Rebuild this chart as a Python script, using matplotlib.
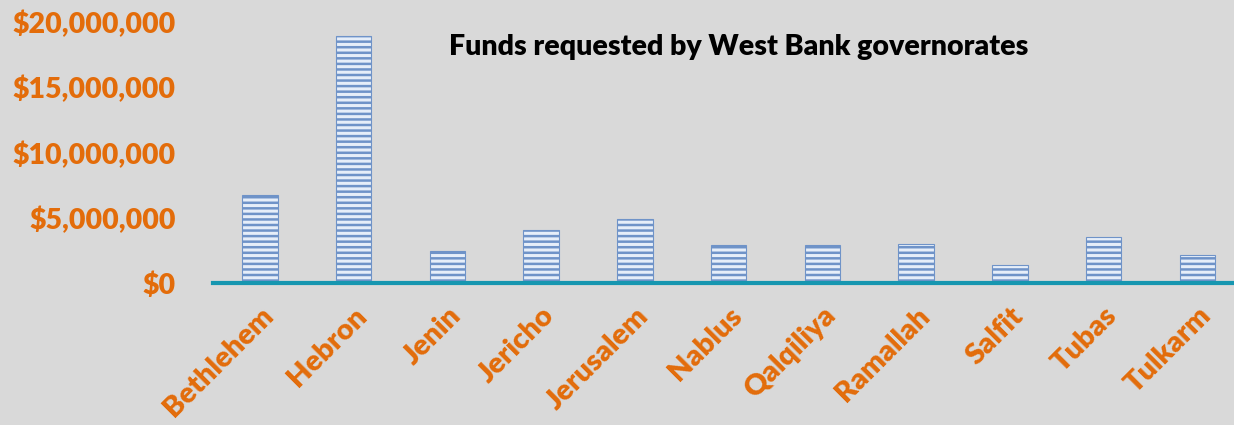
import matplotlib
matplotlib.use('Agg')
from matplotlib import pyplot as plt
from matplotlib.ticker import FuncFormatter

governorates = ['Bethlehem', 'Hebron', 'Jenin', 'Jericho', 'Jerusalem', 'Nablus',
                'Qalqiliya', 'Ramallah', 'Salfit', 'Tubas', 'Tulkarm']
funds = [6740000, 18900000, 2450000, 4060000, 4900000, 2900000,
         2900000, 3000000, 1380000, 3500000, 2140000]

orange = '#e36c0a'
bg = '#d9d9d9'

plt.rcParams['font.family'] = ['Lato', 'DejaVu Sans']
plt.rcParams['hatch.linewidth'] = 1.8
plt.rcParams['hatch.color'] = '#3f71c0'

fig = plt.figure(figsize=(12.34, 4.25), dpi=100, facecolor=bg)
ax = fig.add_axes([213 / 1234, 142 / 425, 1 - 213 / 1234, 261 / 425])
ax.set_facecolor(bg)

x = list(range(len(governorates)))
ax.bar(x, funds, width=0.38, color='#e6eef9', edgecolor='#6f93c8',
       linewidth=0.8, hatch='---')

ax.set_xlim(-0.5, 10.39)
ax.set_ylim(0, 20000000)
ax.set_yticks([0, 5000000, 10000000, 15000000, 20000000])
ax.yaxis.set_major_formatter(FuncFormatter(lambda v, p: f'${v:,.0f}'))

for s in ['top', 'right', 'left']:
    ax.spines[s].set_visible(False)
ax.spines['bottom'].set_color('#1696b0')
ax.spines['bottom'].set_linewidth(3)

ax.tick_params(axis='both', length=0)
ax.tick_params(axis='y', pad=27)
ax.set_yticklabels(ax.get_yticklabels(), color=orange, fontsize=20.5, fontweight='heavy')
ax.set_xticks(x)
ax.set_xticklabels(governorates, rotation=45, ha='right', rotation_mode='anchor',
                   color=orange, fontsize=21, fontweight='heavy')
ax.tick_params(axis='x', pad=14)

fig.text(0.599, 0.89, 'Funds requested by West Bank governorates', ha='center',
         va='center', fontsize=20.5, fontweight='heavy', color='black')

fig.savefig('out.png', dpi=100, facecolor=bg)
